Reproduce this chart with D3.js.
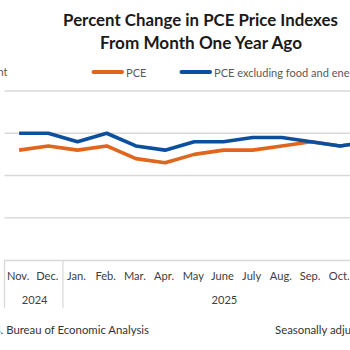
<!DOCTYPE html>
<html>
<head>
<meta charset="utf-8">
<script src="https://cdn.jsdelivr.net/npm/d3@7"></script>
<style>
  html, body { margin: 0; padding: 0; background: #fff; overflow: hidden; }
  svg { display: block; font-family: Lato, "Open Sans", sans-serif; }
</style>
</head>
<body>
<div id="chart"></div>
<script>
// Data (percent change from month one year ago)
const months = ["Nov.", "Dec.", "Jan.", "Feb.", "Mar.", "Apr.", "May", "June", "July", "Aug.", "Sep.", "Oct.", "Nov."];
const years = [
    {label: "2024", from: 0, to: 2},
    {label: "2025", from: 2, to: 13}
];
const pce  = [2.6, 2.7, 2.6, 2.7, 2.4, 2.3, 2.5, 2.6, 2.6, 2.7, 2.8, 2.7, 2.8];
const core = [3.0, 3.0, 2.8, 3.0, 2.7, 2.6, 2.8, 2.8, 2.9, 2.9, 2.8, 2.7, 2.8];
const yTicks = [0, 1, 2, 3, 4];

const width = 350, height = 350;
const plot = {left: 4.5, right: 384, top: 91, bottom: 260};

const svg = d3.select("#chart")
    .append("svg")
    .attr("width", width)
    .attr("height", height);

// scales
const x = d3.scaleBand()
    .domain(d3.range(months.length))
    .range([plot.left, plot.right]);

const y = d3.scaleLinear()
    .domain([0, 4])
    .range([plot.bottom, plot.top]);

// font size that makes a sample string span the wanted width
function fitSize(sample, target, weight) {
    const tmp = svg.append("text")
        .style("font-size", "20px")
        .style("font-weight", weight || "normal")
        .text(sample);
    const w = tmp.node().getComputedTextLength();
    tmp.remove();
    return (20 * target / w) + "px";
}

// Title
svg.append("text")
    .attr("x", 200.5).attr("y", 26)
    .attr("text-anchor", "middle")
    .style("font-size", fitSize("Percent Change in PCE Price Indexes", 275, "bold"))
    .style("font-weight", "bold")
    .style("fill", "#1a1a1a")
    .text("Percent Change in PCE Price Indexes");
svg.append("text")
    .attr("x", 201).attr("y", 49)
    .attr("text-anchor", "middle")
    .style("font-size", fitSize("From Month One Year Ago", 202, "bold"))
    .style("font-weight", "bold")
    .style("fill", "#1a1a1a")
    .text("From Month One Year Ago");

const smallSize = fitSize("PCE excluding food and", 115);

// "Percent" axis title, mostly cut off on the left
svg.append("text")
    .attr("x", 7.5).attr("y", 76)
    .attr("text-anchor", "end")
    .style("font-size", smallSize)
    .style("fill", "#595959")
    .text("Percent");

// Legend
const legend = [
    {name: "PCE", color: "#e0651d", x: 92},
    {name: "PCE excluding food and energy", color: "#0b4f9f", x: 180}
];
legend.forEach(function(d) {
    svg.append("line")
        .attr("x1", d.x + 1.5).attr("x2", d.x + 30)
        .attr("y1", 72).attr("y2", 72)
        .attr("stroke", d.color)
        .attr("stroke-width", 4)
        .attr("stroke-linecap", "round");
    svg.append("text")
        .attr("x", d.x + 34).attr("y", 76.5)
        .style("font-size", smallSize)
        .style("fill", "#595959")
        .text(d.name);
});

// Gridlines (skip baseline, the category box draws it)
svg.append("g")
    .selectAll("line")
    .data(yTicks.filter(v => v > 0))
    .join("line")
    .attr("x1", plot.left).attr("x2", plot.right)
    .attr("y1", d => y(d)).attr("y2", d => y(d))
    .attr("stroke", "#d9d9d9")
    .attr("stroke-width", 1.3);

// Category box: top line and year separators
const boxBottom = 308;
svg.append("line")
    .attr("x1", plot.left).attr("x2", plot.right)
    .attr("y1", plot.bottom + 0.5).attr("y2", plot.bottom + 0.5)
    .attr("stroke", "#d9d9d9").attr("stroke-width", 1.3);

svg.append("g")
    .selectAll("line")
    .data([0].concat(years.map(d => d.to)))
    .join("line")
    .attr("x1", d => d < months.length ? x(d) : plot.right)
    .attr("x2", d => d < months.length ? x(d) : plot.right)
    .attr("y1", plot.bottom).attr("y2", boxBottom)
    .attr("stroke", "#d9d9d9").attr("stroke-width", 1.3);

const labelSize = fitSize("Feb.", 20.5);

// Month labels
svg.append("g")
    .selectAll("text")
    .data(months)
    .join("text")
    .attr("x", (d, i) => x(i) + x.bandwidth() / 2 - 1)
    .attr("y", 280)
    .attr("text-anchor", "middle")
    .style("font-size", labelSize)
    .style("fill", "#404040")
    .text(d => d);

// Year labels
svg.append("g")
    .selectAll("text")
    .data(years)
    .join("text")
    .attr("x", d => (x(d.from) + (d.to < months.length ? x(d.to) : plot.right)) / 2 + 1)
    .attr("y", 304)
    .attr("text-anchor", "middle")
    .style("font-size", labelSize)
    .style("fill", "#404040")
    .text(d => d.label);

// Lines
const line = d3.line()
    .x((d, i) => x(i) + x.bandwidth() / 2)
    .y(d => y(d));

svg.append("path")
    .datum(pce)
    .attr("d", line)
    .attr("fill", "none")
    .attr("stroke", "#e0651d")
    .attr("stroke-width", 3.6)
    .attr("stroke-linejoin", "round");

svg.append("path")
    .datum(core)
    .attr("d", line)
    .attr("fill", "none")
    .attr("stroke", "#0b4f9f")
    .attr("stroke-width", 3.6)
    .attr("stroke-linejoin", "round");

// Source and note
const srcSize = fitSize("Bureau of Economic Analysis", 143);
svg.append("text")
    .attr("x", 149).attr("y", 334)
    .attr("text-anchor", "end")
    .style("font-size", srcSize)
    .style("fill", "#333")
    .text("U.S. Bureau of Economic Analysis");

svg.append("text")
    .attr("x", 275).attr("y", 334)
    .style("font-size", srcSize)
    .style("fill", "#333")
    .text("Seasonally adjusted");
</script>
</body>
</html>
